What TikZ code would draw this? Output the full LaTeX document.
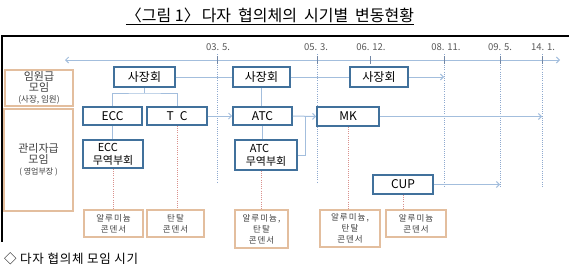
\documentclass[tikz,border=0pt]{standalone}
\usepackage{fontspec}
\setmainfont{Noto Sans CJK KR}
\newfontfamily\spacedkr[LetterSpace=12]{Noto Sans CJK KR}
\newfontfamily\capkr[LetterSpace=6]{Noto Sans CJK KR}
\usetikzlibrary{arrows.meta}
\definecolor{bluebd}{HTML}{41719C}
\definecolor{conn}{HTML}{A3BEDD}
\definecolor{vdot}{HTML}{8EA9CF}
\definecolor{rdot}{HTML}{D9908C}
\definecolor{tanbd}{HTML}{E3BE9E}
\definecolor{txt}{HTML}{404040}
\definecolor{datec}{HTML}{595959}
\tikzset{
  bbox/.style={draw=bluebd, line width=1.6pt, fill=white, inner sep=0pt, text=black,
    font=\fontsize{12}{13}\selectfont},
  subbox/.style={bbox, align=left, font=\fontsize{11}{13}\selectfont},
  lbox/.style={draw=tanbd, line width=1.3pt, fill=white, inner sep=0pt, align=center, text=txt},
  obox/.style={draw=tanbd, line width=1.3pt, fill=white, inner sep=0pt, align=center, text=txt,
    font=\spacedkr\fontsize{8.5}{11}\selectfont},
  conline/.style={draw=conn, line width=1pt},
  conarrow/.style={conline, -{Straight Barb[length=3pt,width=6pt]}},
  vline/.style={draw=vdot, line width=0.8pt, dash pattern=on 1pt off 1.2pt},
  rline/.style={draw=rdot, line width=0.8pt, dash pattern=on 1pt off 1.2pt},
  datelab/.style={text=datec, font=\fontsize{9.5}{11}\selectfont, inner sep=0pt},
  tick/.style={draw=vdot!80!black, line width=0.8pt},
}
\begin{document}
\begin{tikzpicture}[x=1pt,y=-1pt]
\useasboundingbox (0,0) rectangle (569,271);
% title
\node[inner sep=0pt, font=\fontsize{16}{18}\selectfont, text=black] (title) at (270,16)
  {\underline{〈그림\ 1〉\hspace{2pt}다자\hspace{7pt}협의체의\hspace{7pt}시기별\hspace{7pt}변동현황}};
% frame
\coordinate (fr1) at (2,36);
\coordinate (fr2) at (569,36);
\coordinate (fr3) at (2,242);
\draw[line width=1.3pt] (fr2) -- (fr1) -- (fr3);
% timeline
\coordinate (tl1) at (65,60);
\coordinate (tl2) at (560,60);
\draw[conline, {Straight Barb[length=3pt,width=6pt]}-{Straight Barb[length=3pt,width=6pt]}] (tl1) -- (tl2);
% dates
\node[datelab] (d1) at (218,47) {03. 5.};
\node[datelab] (d2) at (316,47) {05. 3.};
\node[datelab] (d3) at (371,47) {06. 12.};
\node[datelab] (d4) at (446,47) {08. 11.};
\node[datelab] (d5) at (500,47) {09. 5.};
\node[datelab] (d6) at (543,47) {14. 1.};
\coordinate (v1a) at (217,54); \coordinate (v1b) at (217,183);
\coordinate (v2a) at (317,54); \coordinate (v2b) at (317,183);
\coordinate (v3a) at (370,56); \coordinate (v3b) at (370,64);
\coordinate (v4a) at (444,54); \coordinate (v4b) at (444,188);
\coordinate (v5a) at (500,54); \coordinate (v5b) at (500,188);
\coordinate (v6a) at (542,54); \coordinate (v6b) at (542,187);
\foreach \i in {1,2,4,5,6} {\draw[vline] (v\i a) -- (v\i b);}
\foreach \x in {217,317,444,500,542} {\draw[tick] (\x,56) -- (\x,64);}
\draw[tick] (v3a) -- (v3b);
% left boxes
\node[lbox, minimum width=68pt, minimum height=36pt] (L1) at (39,88)
  {{\fontsize{11}{12}\selectfont 임원급}\\[-1pt]{\fontsize{11}{12}\selectfont 모임}\\[-1pt]{\fontsize{8.5}{10}\selectfont (사장, 임원)}};
\node[lbox, minimum width=69pt, minimum height=102pt] (L2) at (38.5,160)
  {{\fontsize{11}{12}\selectfont 관리자급}\\[-1pt]{\fontsize{11}{12}\selectfont 모임}\\[-1pt]{\fontsize{8}{10}\selectfont (\ 영업부장\ )}};
% blue boxes
\node[bbox, minimum width=61pt, minimum height=20pt] (sj1) at (144.5,77) {사장회};
\node[bbox, minimum width=57pt, minimum height=20pt] (sj2) at (261.5,77) {사장회};
\node[bbox, minimum width=58pt, minimum height=20pt] (sj3) at (379,77) {사장회};
\node[bbox, minimum width=59pt, minimum height=18pt] (ecc) at (112.5,116) {ECC};
\node[bbox, minimum width=60pt, minimum height=18pt] (tc) at (177,116) {T\enspace C};
\node[bbox, minimum width=59pt, minimum height=18pt] (atc) at (262.5,116) {ATC};
\node[bbox, minimum width=62pt, minimum height=19pt] (mk) at (348,116.5) {MK};
\node[bbox, minimum width=60pt, minimum height=19pt] (cup) at (403,184.5) {CUP};
\node[subbox, minimum width=60pt, minimum height=28pt] (eccsub) at (113,154)
  {\hspace{5pt}ECC\\무역부회};
\node[subbox, minimum width=62pt, minimum height=30pt] (atcsub) at (266,155)
  {\hspace{4pt}ATC\\무역부회};
% bottom boxes
\node[obox, minimum width=59pt, minimum height=27pt] (A) at (113.5,223.5) {알루미늄\\콘덴서};
\node[obox, minimum width=57pt, minimum height=27pt] (B) at (175.5,223.5) {탄탈\\콘덴서};
\node[obox, minimum width=53pt, minimum height=38pt] (C) at (261.5,229) {알루미늄,\\탄탈\\콘덴서};
\node[obox, minimum width=60pt, minimum height=37pt] (D) at (350,228.5) {알루미늄,\\탄탈\\콘덴서};
\node[obox, minimum width=60pt, minimum height=27pt] (E) at (416,223.5) {알루미늄\\콘덴서};
% connectors
\coordinate (br1) at (144.5,93);
\draw[conline] (sj1.south) -- (br1);
\draw[conline] (ecc.north) |- (br1) -| (tc.north);
\draw[conline] (ecc.south) -- (ecc.south |- eccsub.north);
\draw[conline] (sj1.east) -- (sj2.west);
\draw[conline] (sj2.east) -- (sj3.west);
\coordinate (e1) at (444,77);
\draw[conarrow] (sj3.east) -- (e1);
\draw[conline] (sj2.south) -- (sj2.south |- atc.north);
\draw[conarrow] (tc.east) -- (atc.west);
\draw[conarrow] (atc.east) -- (mk.west);
\draw[conline] (atc.south) -- (atc.south |- atcsub.north);
\coordinate (jn) at (305,116);
\draw[conline] (atcsub.east) -| (jn);
\coordinate (e2) at (542,116.5);
\draw[conarrow] (mk.east) -- (e2);
\coordinate (e3) at (500,184.5);
\draw[conarrow] (cup.east) -- (e3);
% red dotted
\draw[rline] (eccsub.south) -- (eccsub.south |- A.north);
\draw[rline] (tc.south) -- (tc.south |- B.north);
\draw[rline] (C.north |- atcsub.south) -- (C.north);
\draw[rline] (mk.south) -- (mk.south |- D.north);
\draw[rline] (cup.south) -- (cup.south |- E.north);
% caption
\node[anchor=west, inner sep=0pt, font=\capkr\fontsize{12.5}{14}\selectfont, text=black] (cap) at (4,259)
  {◇ 다자 협의체 모임 시기};
\end{tikzpicture}
\end{document}
